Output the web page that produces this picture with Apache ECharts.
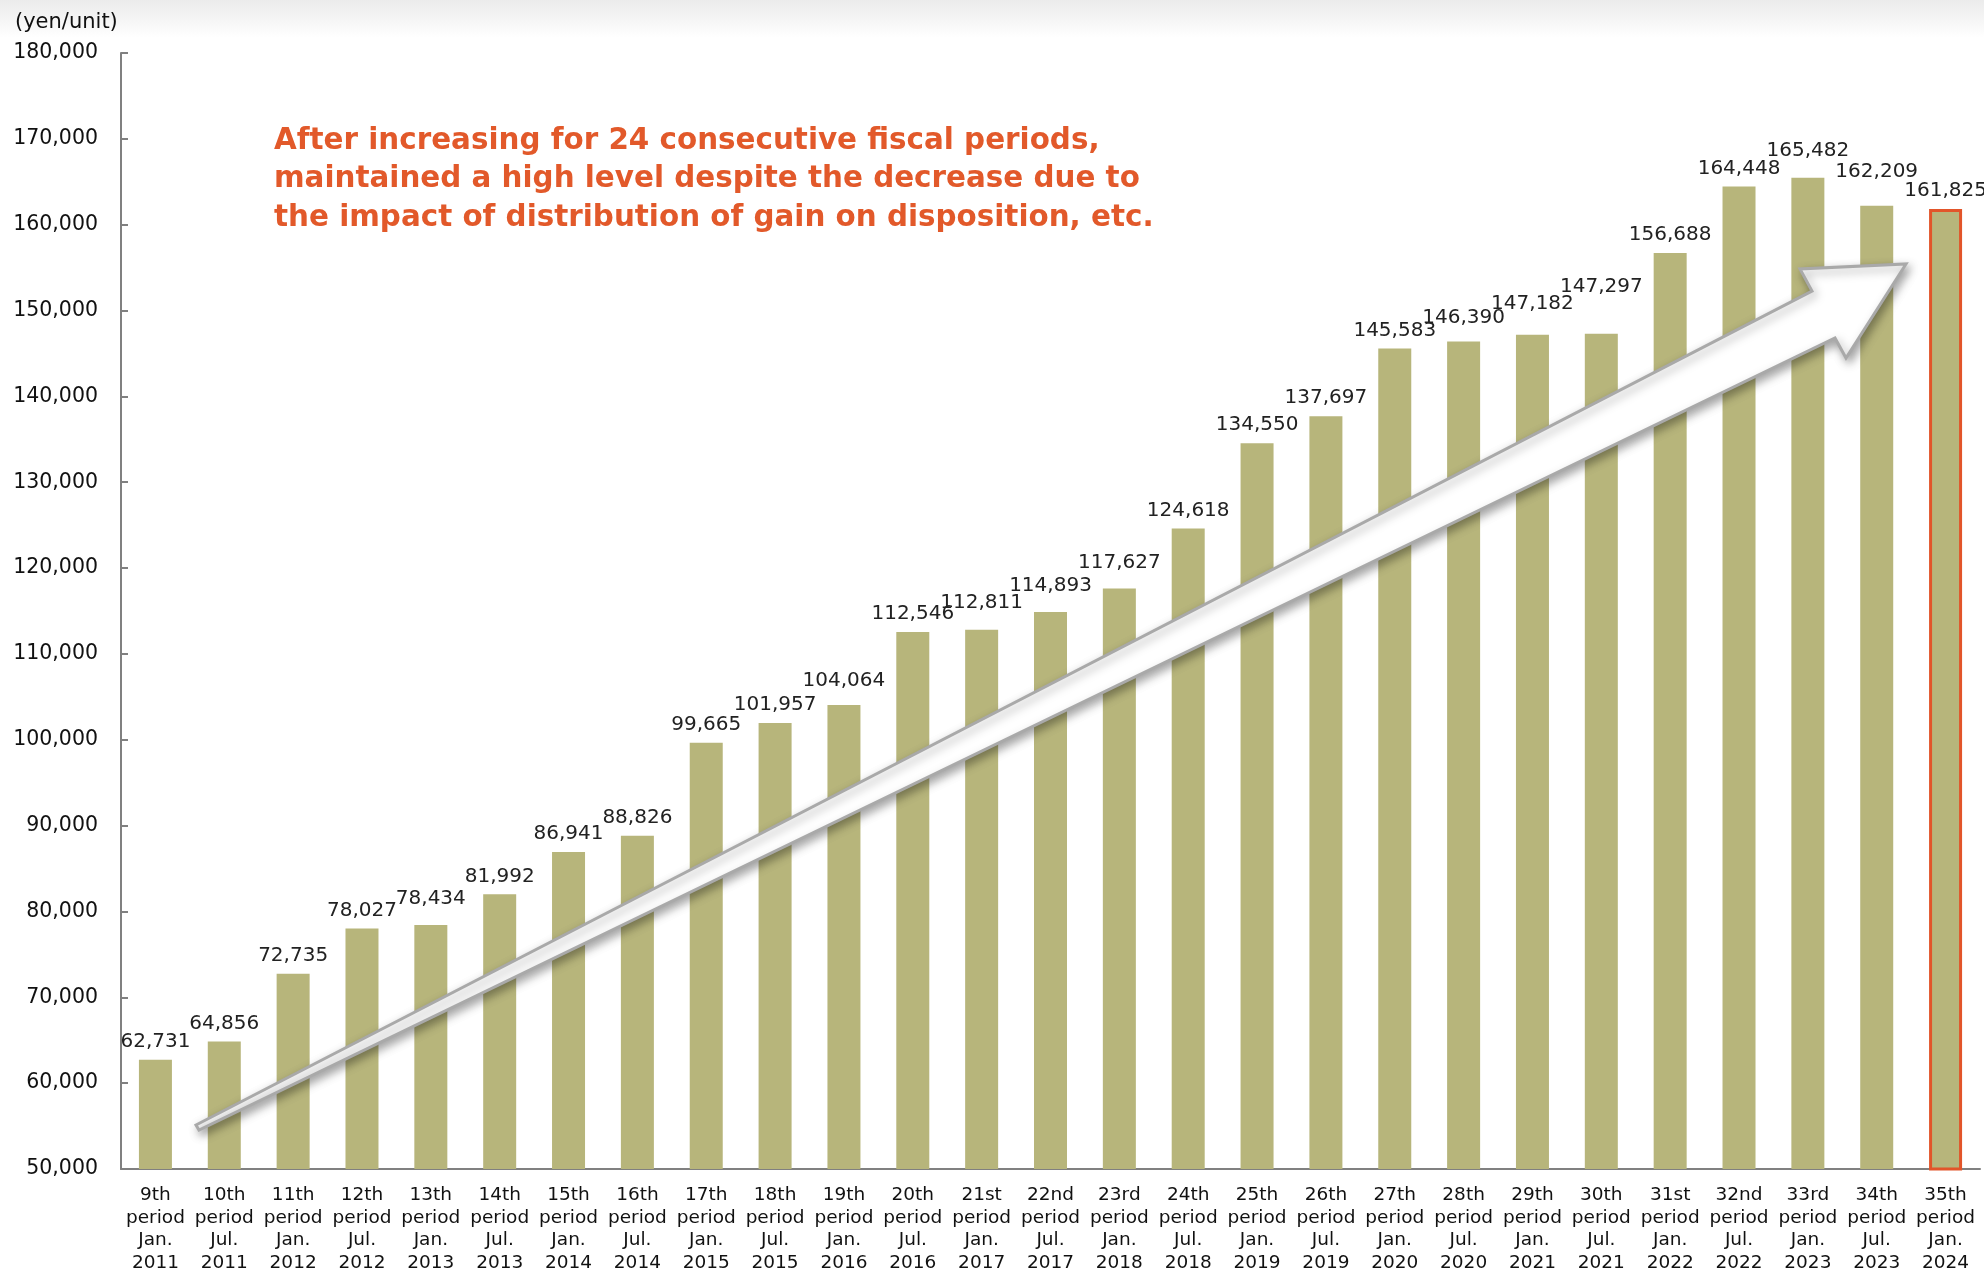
<!DOCTYPE html>
<html>
<head>
<meta charset="utf-8">
<script src="https://cdn.jsdelivr.net/npm/echarts@6/dist/echarts.min.js"></script>
<style>
  html, body { margin: 0; padding: 0; background: #fff; }
  #chart { width: 1984px; height: 1270px; }
</style>
</head>
<body>
<div id="chart"></div>
<script>
// periods (x axis, 4 lines each)
const periods = ['9th', '10th', '11th', '12th', '13th', '14th', '15th', '16th', '17th', '18th',
  '19th', '20th', '21st', '22nd', '23rd', '24th', '25th', '26th', '27th', '28th',
  '29th', '30th', '31st', '32nd', '33rd', '34th', '35th'];
const months = ['Jan.', 'Jul.', 'Jan.', 'Jul.', 'Jan.', 'Jul.', 'Jan.', 'Jul.', 'Jan.', 'Jul.',
  'Jan.', 'Jul.', 'Jan.', 'Jul.', 'Jan.', 'Jul.', 'Jan.', 'Jul.', 'Jan.', 'Jul.',
  'Jan.', 'Jul.', 'Jan.', 'Jul.', 'Jan.', 'Jul.', 'Jan.'];
const years = ['2011', '2011', '2012', '2012', '2013', '2013', '2014', '2014', '2015', '2015',
  '2016', '2016', '2017', '2017', '2018', '2018', '2019', '2019', '2020', '2020',
  '2021', '2021', '2022', '2022', '2023', '2023', '2024'];

// distribution per unit (yen)
const distribution = [62731, 64856, 72735, 78027, 78434, 81992, 86941, 88826, 99665, 101957,
  104064, 112546, 112811, 114893, 117627, 124618, 134550, 137697, 145583, 146390,
  147182, 147297, 156688, 164448, 165482, 162209, 161825];

// y axis ticks
const yMin = 50000;
const yMax = 180000;
const yStep = 10000;

// extra upward nudge of value labels where they would collide (px)
const labelLift = [0, 0, 0, 0, 8, 0, 0, 0, 0, 0, 6, 0, 9, 8, 8, 0, 0, 0, 0, 6, 13, 29, 0, 0, 9, 16, 0];

const note = 'After increasing for 24 consecutive fiscal periods,\nmaintained a high level despite the decrease due to\nthe impact of distribution of gain on disposition, etc.';

const fmt = v => v.toLocaleString('en-US');
const categories = periods.map((p, i) => p + '\nperiod\n' + months[i] + '\n' + years[i]);
const last = distribution.length - 1;

const chart = echarts.init(document.getElementById('chart'));
chart.setOption({
  animation: false,
  backgroundColor: '#fff',
  title: {
    text: '(yen/unit)',
    left: 10,
    top: 7,
    textStyle: { fontFamily: 'DejaVu Sans', fontSize: 21, fontWeight: 'normal', color: '#111' }
  },
  grid: { left: 121, right: 4, top: 53, bottom: 101, outerBoundsMode: 'none', containLabel: false },
  xAxis: {
    type: 'category',
    data: categories,
    axisLine: { lineStyle: { color: '#808080', width: 2 } },
    axisTick: { inside: true, length: 7, lineStyle: { color: '#808080', width: 2 } },
    axisLabel: {
      interval: 0,
      margin: 15,
      fontFamily: 'DejaVu Sans',
      fontSize: 18.5,
      lineHeight: 22.5,
      color: '#111'
    }
  },
  yAxis: {
    type: 'value',
    min: yMin,
    max: yMax,
    interval: yStep,
    axisLine: { show: true, lineStyle: { color: '#808080', width: 2 } },
    axisTick: { show: true, inside: true, length: 7, lineStyle: { color: '#808080', width: 2 } },
    splitLine: { show: false },
    axisLabel: {
      margin: 23,
      fontFamily: 'DejaVu Sans',
      fontSize: 20.5,
      color: '#111',
      formatter: fmt
    }
  },
  series: [{
    type: 'bar',
    barWidth: 33,
    data: distribution.map((v, i) => ({
      value: v,
      itemStyle: i === last ? { color: '#b7b57b', borderColor: '#e2552a', borderWidth: 3 } : undefined,
      label: { offset: [0, -labelLift[i]] }
    })),
    itemStyle: { color: '#b7b57b' },
    label: {
      show: true,
      position: 'top',
      distance: 8,
      fontFamily: 'DejaVu Sans',
      fontSize: 20,
      color: '#222',
      formatter: p => fmt(p.value)
    }
  }],
  graphic: [
    {
      type: 'rect',
      z: -1,
      shape: { x: 0, y: 0, width: 1984, height: 38 },
      style: {
        fill: new echarts.graphic.LinearGradient(0, 0, 0, 1, [
          { offset: 0, color: '#ebebeb' },
          { offset: 1, color: '#ffffff' }
        ])
      },
      silent: true
    },
    {
      // big trend arrow
      type: 'polygon',
      z: 100,
      shape: {
        points: [[196, 1125], [1812, 291], [1800, 269], [1906, 264], [1846, 358], [1835, 338], [199, 1130]]
      },
      style: {
        fill: '#ffffff',
        stroke: '#a9a9a9',
        lineWidth: 3,
        shadowBlur: 10,
        shadowColor: 'rgba(0,0,0,0.35)',
        shadowOffsetX: 3,
        shadowOffsetY: 4
      }
    },
    {
      type: 'text',
      z: 110,
      left: 274,
      top: 122,
      style: {
        text: note,
        fill: '#e2592a',
        font: 'bold 29.4px "DejaVu Sans"',
        lineHeight: 38.5
      }
    }
  ]
});
</script>
</body>
</html>
